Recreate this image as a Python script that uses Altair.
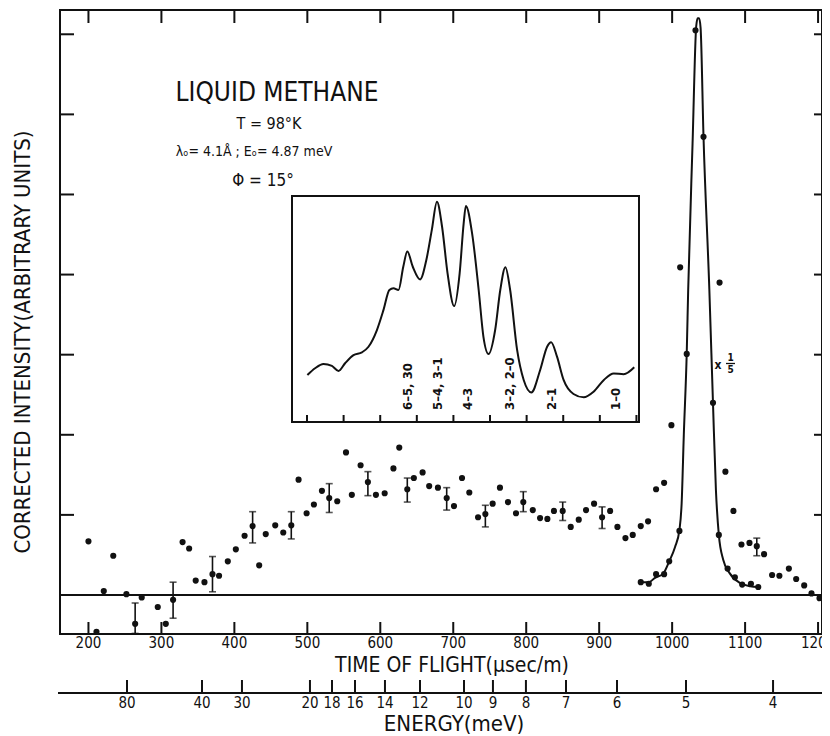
import altair as alt
import pandas as pd

# ---------------- data ----------------
# main axes: time of flight (usec/m) and corrected intensity (arbitrary units)
TOF_DOMAIN = [161.0, 1205.4]
INT_DOMAIN = [-0.487, 7.303]

pts_tof = [200, 211, 221, 234, 252, 264, 273, 295, 306, 316, 329, 338, 347, 359, 370, 379,
           391, 402, 414, 425, 434, 443, 456, 467, 478, 488, 499, 509, 520, 530, 541, 553,
           561, 573, 583, 594, 606, 618, 626, 637, 646, 658, 667, 679, 691, 701, 712, 722,
           734, 744, 754, 764, 775, 786, 796, 809, 819, 829, 838, 850, 861, 872, 882, 893,
           904, 915, 925, 936, 946, 957, 967, 978, 989, 999, 1011, 1065, 1073, 1084, 1095,
           1106, 1116, 1126, 1137, 1147, 1160, 1170, 1181, 1191, 1202]
pts_int = [0.67, -0.46, 0.05, 0.49, 0.01, -0.36, -0.03, -0.15, -0.36, -0.06, 0.66, 0.58, 0.18,
           0.16, 0.26, 0.24, 0.42, 0.57, 0.74, 0.86, 0.37, 0.76, 0.87, 0.78, 0.87, 1.44, 1.02,
           1.13, 1.30, 1.21, 1.17, 1.78, 1.25, 1.62, 1.41, 1.25, 1.27, 1.58, 1.84, 1.32, 1.46,
           1.53, 1.36, 1.34, 1.21, 1.11, 1.46, 1.28, 0.97, 1.01, 1.14, 1.34, 1.16, 1.02, 1.16,
           1.06, 0.96, 0.95, 1.05, 1.05, 0.85, 0.94, 1.06, 1.14, 0.97, 1.05, 0.85, 0.71, 0.75,
           0.86, 0.92, 1.32, 1.40, 2.12, 4.09, 3.90, 1.54, 1.05, 0.63, 0.65, 0.61, 0.51, 0.25,
           0.24, 0.33, 0.20, 0.12, 0.02, -0.04]

err_tof = [264, 316, 370, 425, 478, 530, 583, 637, 691, 744, 796, 850, 904, 1116]
err_lo = [-0.48, -0.29, 0.04, 0.65, 0.70, 1.03, 1.24, 1.16, 1.06, 0.85, 1.04, 0.93, 0.83, 0.49]
err_hi = [-0.10, 0.16, 0.48, 1.04, 1.04, 1.39, 1.54, 1.46, 1.34, 1.12, 1.29, 1.16, 1.10, 0.71]

# elastic peak, plotted x 1/5
peak_tof = [957, 968, 978, 989, 996, 1010, 1020, 1032, 1043, 1056, 1064, 1076, 1086, 1096, 1108, 1118]
peak_int = [0.16, 0.14, 0.26, 0.26, 0.42, 0.80, 3.01, 7.05, 5.72, 2.40, 0.75, 0.33, 0.22, 0.13, 0.14, 0.10]

fit_tof = [956, 968, 976, 988, 996, 1004, 1010, 1013, 1016, 1020, 1022, 1028, 1033, 1035, 1037,
           1039, 1043, 1051, 1056, 1060, 1064, 1070, 1079, 1093, 1107, 1118]
fit_int = [0.16, 0.16, 0.21, 0.27, 0.42, 0.60, 0.81, 1.14, 2.00, 3.02, 3.81, 5.64, 7.10, 7.20, 7.20,
           7.08, 5.72, 3.81, 2.39, 1.31, 0.75, 0.44, 0.27, 0.15, 0.11, 0.10]

tof_ticks = [200, 300, 400, 500, 600, 700, 800, 900, 1000, 1100, 1200]
int_ticks = [1, 2, 3, 4, 5, 6, 7]

energy_labels = ["80", "40", "30", "20", "18", "16", "14", "12", "10", "9", "8", "7", "6", "5", "4"]
energy_tick_tof = [252.8, 355.6, 410.4, 503.6, 533.8, 565.3, 606.4, 654.4, 714.7, 754.4,
                   799.6, 854.5, 924.4, 1019.0, 1138.3]

# inset (tick index units, relative intensity 0..10 of the box)
inset_u = [0.01, 0.22, 0.45, 0.68, 0.86, 1.04, 1.27, 1.50, 1.68, 1.91, 2.09, 2.25, 2.36, 2.50,
           2.63, 2.74, 2.89, 3.09, 3.26, 3.41, 3.55, 3.69, 3.84, 4.02, 4.17, 4.28, 4.34, 4.51,
           4.69, 4.82, 4.96, 5.14, 5.28, 5.42, 5.55, 5.74, 5.92, 6.13, 6.37, 6.56, 6.67, 6.83,
           7.01, 7.28, 7.56, 7.83, 8.11, 8.38, 8.65, 8.94]
inset_v = [2.08, 2.38, 2.57, 2.48, 2.26, 2.60, 2.96, 3.08, 3.33, 4.07, 4.96, 5.84, 5.92, 5.84,
           6.87, 7.54, 6.87, 6.31, 7.17, 8.50, 9.75, 8.64, 6.58, 5.13, 6.58, 8.79, 9.56, 8.35,
           5.84, 3.77, 3.01, 4.07, 5.84, 6.85, 5.84, 3.19, 1.86, 1.31, 2.30, 3.33, 3.53, 2.89,
           1.86, 1.24, 1.09, 1.34, 1.86, 2.15, 2.11, 2.42]
inset_ticks = [0, 1, 2, 3, 4, 5, 6, 7, 8, 9]
inset_label_u = [2.76, 3.59, 4.40, 5.54, 6.70, 8.45]
inset_label_text = ["6–5, 30", "5–4, 3–1", "4–3", "3–2, 2–0", "2–1", "1–0"]

# ---------------- chart ----------------
W, H = 762, 624
FONT = "DejaVu Sans Condensed, DejaVu Sans, sans-serif"
INK = "#111111"

xs = alt.Scale(domain=TOF_DOMAIN, nice=False, zero=False)
ys = alt.Scale(domain=INT_DOMAIN, nice=False, zero=False)
ui = alt.Scale(domain=[-0.41, 9.07], range=[232, 579], nice=False, zero=False)
vi = alt.Scale(domain=[0, 10], range=[412, 186], nice=False, zero=False)


def X(f):
    return alt.X(f, type="quantitative", scale=xs, axis=None)


def Y(f):
    return alt.Y(f, type="quantitative", scale=ys, axis=None)


df_pts = pd.DataFrame({"t": pts_tof, "v": pts_int})
df_err = pd.DataFrame({"t": err_tof, "lo": err_lo, "hi": err_hi})
df_peak = pd.DataFrame({"t": peak_tof, "v": peak_int})
df_fit = pd.DataFrame({"t": fit_tof, "v": fit_int})
df_tt = pd.DataFrame({"t": tof_ticks, "lab": [str(v) for v in tof_ticks]})
df_it = pd.DataFrame({"v": int_ticks})
df_en = pd.DataFrame({"t": energy_tick_tof, "lab": energy_labels})
df_inset = pd.DataFrame({"u": inset_u, "v": inset_v})
df_itk = pd.DataFrame({"u": inset_ticks})
df_ilab = pd.DataFrame({"u": inset_label_u, "lab": inset_label_text})
one = pd.DataFrame({"a": [0]})

layers = []

# zero line
layers.append(alt.Chart(pd.DataFrame({"v": [0.0]})).mark_rule(color=INK, strokeWidth=1.8).encode(
    y=Y("v"), x=alt.value(0), x2=alt.value(W)))
# frame ticks
layers.append(alt.Chart(df_tt).mark_rule(color=INK, strokeWidth=2).encode(
    x=X("t"), y=alt.value(0), y2=alt.value(13)))
layers.append(alt.Chart(df_tt).mark_rule(color=INK, strokeWidth=2).encode(
    x=X("t"), y=alt.value(H), y2=alt.value(H - 12)))
layers.append(alt.Chart(df_it).mark_rule(color=INK, strokeWidth=2).encode(
    y=Y("v"), x=alt.value(0), x2=alt.value(14)))
layers.append(alt.Chart(df_it).mark_rule(color=INK, strokeWidth=2).encode(
    y=Y("v"), x=alt.value(W), x2=alt.value(W - 8)))
# TOF labels and title
layers.append(alt.Chart(df_tt).mark_text(font=FONT, fontSize=15, baseline="middle", color=INK).encode(
    x=X("t"), y=alt.value(H + 9), text="lab:N"))
layers.append(alt.Chart(one).mark_text(font=FONT, fontSize=21, baseline="middle", color=INK).encode(
    x=alt.value(392), y=alt.value(656), text=alt.value("TIME OF FLIGHT(µsec/m)")))
# energy axis
layers.append(alt.Chart(one).mark_rule(color=INK, strokeWidth=2).encode(
    x=alt.value(-2), x2=alt.value(W), y=alt.value(683)))
layers.append(alt.Chart(df_en).mark_rule(color=INK, strokeWidth=2).encode(
    x=X("t"), y=alt.value(683), y2=alt.value(670)))
layers.append(alt.Chart(df_en).mark_text(font=FONT, fontSize=15, baseline="middle", color=INK).encode(
    x=X("t"), y=alt.value(693), text="lab:N"))
layers.append(alt.Chart(one).mark_text(font=FONT, fontSize=22, baseline="middle", color=INK).encode(
    x=alt.value(394), y=alt.value(714), text=alt.value("ENERGY(meV)")))
# y title
layers.append(alt.Chart(one).mark_text(font=FONT, fontSize=22, angle=270, baseline="middle", color=INK).encode(
    x=alt.value(-37), y=alt.value(332), text=alt.value("CORRECTED INTENSITY(ARBITRARY UNITS)")))

# data
layers.append(alt.Chart(df_err).mark_rule(color=INK, strokeWidth=1.6).encode(x=X("t"), y=Y("lo"), y2="hi"))
layers.append(alt.Chart(df_err).mark_tick(color=INK, orient="horizontal", size=7, thickness=1.6).encode(x=X("t"), y=Y("lo")))
layers.append(alt.Chart(df_err).mark_tick(color=INK, orient="horizontal", size=7, thickness=1.6).encode(x=X("t"), y=Y("hi")))
layers.append(alt.Chart(df_pts).mark_circle(color=INK, size=38, opacity=1).encode(x=X("t"), y=Y("v")))
layers.append(alt.Chart(df_fit).mark_line(color=INK, strokeWidth=2, interpolate="monotone").encode(x=X("t"), y=Y("v")))
layers.append(alt.Chart(df_peak).mark_circle(color=INK, size=38, opacity=1).encode(x=X("t"), y=Y("v")))

# x 1/5 note
layers.append(alt.Chart(one).mark_text(font=FONT, fontSize=12, fontWeight="bold", baseline="middle", color=INK).encode(
    x=alt.value(658), y=alt.value(355), text=alt.value("x")))
layers.append(alt.Chart(one).mark_text(font=FONT, fontSize=10, fontWeight="bold", baseline="middle", color=INK).encode(
    x=alt.value(670.5), y=alt.value(348), text=alt.value("1")))
layers.append(alt.Chart(one).mark_text(font=FONT, fontSize=10, fontWeight="bold", baseline="middle", color=INK).encode(
    x=alt.value(670.5), y=alt.value(360), text=alt.value("5")))
layers.append(alt.Chart(one).mark_rule(color=INK, strokeWidth=1.3).encode(
    x=alt.value(666), x2=alt.value(675), y=alt.value(353.5)))

# annotations
for txt, px, py, fs in [("LIQUID METHANE", 217, 83, 26),
                        ("T = 98°K", 209, 114, 16),
                        ("λₒ= 4.1Å ; Eₒ= 4.87 meV", 194, 142, 14),
                        ("Φ = 15°", 203, 171, 17)]:
    layers.append(alt.Chart(one).mark_text(font=FONT, fontSize=fs, baseline="middle", color=INK).encode(
        x=alt.value(px), y=alt.value(py), text=alt.value(txt)))

# inset
layers.append(alt.Chart(one).mark_rect(fill="white", stroke=INK, strokeWidth=2).encode(
    x=alt.value(232), x2=alt.value(579), y=alt.value(186), y2=alt.value(412)))
layers.append(alt.Chart(df_itk).mark_rule(color=INK, strokeWidth=2).encode(
    x=alt.X("u:Q", scale=ui, axis=None), y=alt.value(412), y2=alt.value(405)))
layers.append(alt.Chart(df_inset).mark_line(color=INK, strokeWidth=2, interpolate="monotone").encode(
    x=alt.X("u:Q", scale=ui, axis=None), y=alt.Y("v:Q", scale=vi, axis=None)))
layers.append(alt.Chart(df_ilab).mark_text(font=FONT, fontSize=13, fontWeight="bold", angle=270, align="left",
                                           baseline="middle", color=INK).encode(
    x=alt.X("u:Q", scale=ui, axis=None), y=alt.value(400), text="lab:N"))

chart = alt.layer(*layers).resolve_scale(x="independent", y="independent").properties(
    width=W, height=H,
    padding={"left": 52, "top": 2, "right": 0, "bottom": 102},
    autosize=alt.AutoSizeParams(type="none"),
    background="white",
).configure_view(stroke=INK, strokeWidth=2)

chart.save("out.html", embed_options={"renderer": "svg", "actions": False})
